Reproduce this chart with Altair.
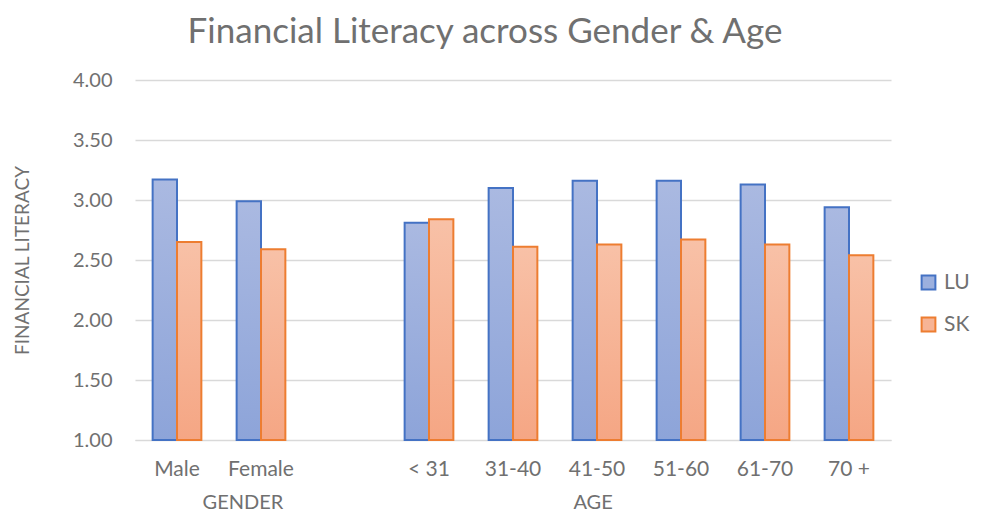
import altair as alt
import pandas as pd

# ---- data ----
categories = ["Male", "Female", " ", "< 31", "31-40", "41-50", "51-60", "61-70", "70 +"]
data_categories = ["Male", "Female", "< 31", "31-40", "41-50", "51-60", "61-70", "70 +"]
lu_values = [3.17, 2.99, 2.81, 3.10, 3.16, 3.16, 3.13, 2.94]
sk_values = [2.65, 2.59, 2.84, 2.61, 2.63, 2.67, 2.63, 2.54]
series = ["LU", "SK"]
y_ticks = [1.0, 1.5, 2.0, 2.5, 3.0, 3.5, 4.0]
group_labels = ["GENDER", "AGE"]
group_anchor = ["Female", "41-50"]

rows = []
for c, lu, sk in zip(data_categories, lu_values, sk_values):
    rows.append({"category": c, "series": "LU", "value": lu})
    rows.append({"category": c, "series": "SK", "value": sk})
df = pd.DataFrame(rows)

W, H = 756, 360
FONT = "Lato"
GRAY = "#707070"
GRID = "#d9d9d9"

x_enc = alt.X(
    "category:N",
    sort=categories,
    scale=alt.Scale(domain=categories, paddingInner=0.42, paddingOuter=0.21),
    axis=alt.Axis(
        title=None, labelAngle=0, labelFontSize=21, labelColor=GRAY, labelFont=FONT,
        labelPadding=18, ticks=False, domainColor=GRID, domainWidth=1, grid=False,
    ),
)
y_enc = alt.Y(
    "value:Q",
    scale=alt.Scale(domain=[1, 4], zero=False, nice=False),
    axis=alt.Axis(
        values=y_ticks, format=".2f", title="FINANCIAL LITERACY", titleFont=FONT,
        titleFontSize=19, titleFontWeight="normal", titleColor=GRAY, titlePadding=40,
        labelFont=FONT, labelFontSize=20, labelColor=GRAY, labelPadding=23,
        ticks=False, tickSize=0, domain=False, grid=True, gridColor=GRID, gridWidth=1.3,
    ),
)
xoff = alt.XOffset("series:N", scale=alt.Scale(domain=series))


def gradient(top, bottom):
    return alt.Gradient(
        gradient="linear",
        stops=[alt.GradientStop(color=top, offset=0), alt.GradientStop(color=bottom, offset=1)],
        x1=0, x2=0, y1=0, y2=1,
    )


def bar_layer(s, top, bottom, stroke):
    return (
        alt.Chart(df)
        .transform_filter(alt.datum.series == s)
        .mark_bar(fill=gradient(top, bottom), stroke=stroke, strokeWidth=2)
        .encode(x=x_enc, xOffset=xoff, y=y_enc, y2=alt.Y2(datum=1))
    )


lu_layer = bar_layer("LU", "#aab9e1", "#8da4d9", "#4472C4")
sk_layer = bar_layer("SK", "#f8c1a7", "#f5a684", "#ED7D31")

legend = alt.Legend(
    title=None, orient="none", legendX=W + 27, legendY=192, symbolType="square",
    symbolSize=190, symbolStrokeWidth=2, symbolOpacity=1, labelFontSize=21,
    labelColor=GRAY, labelFont=FONT, rowPadding=19, labelOffset=5,
)
legend_layer = (
    alt.Chart(df)
    .mark_point(opacity=0, filled=True)
    .encode(
        x=x_enc,
        y=y_enc,
        fill=alt.Fill("series:N", scale=alt.Scale(domain=series, range=["#9cb0de", "#f7b495"]), legend=legend),
        stroke=alt.Stroke("series:N", scale=alt.Scale(domain=series, range=["#4472C4", "#ED7D31"]), legend=legend),
    )
)

gdf = pd.DataFrame({"label": group_labels, "anchor": group_anchor})


def group_layer(lbl, band_pos):
    return (
        alt.Chart(gdf)
        .transform_filter(alt.datum.label == lbl)
        .mark_text(font=FONT, fontSize=20, color=GRAY, baseline="middle", align="center")
        .encode(x=alt.X("anchor:N", bandPosition=band_pos), y=alt.value(H + 63), text="label:N")
    )


chart = (
    alt.layer(lu_layer, sk_layer, legend_layer, group_layer("GENDER", 0.13), group_layer("AGE", 0.42))
    .properties(
        width=W,
        height=H,
        autosize="none",
        padding={"left": 127, "top": 72, "right": 80, "bottom": 74},
        title=alt.TitleParams(
            "Financial Literacy across Gender & Age", fontSize=35, font=FONT, color=GRAY,
            fontWeight="normal", anchor="middle", offset=20, dx=-28,
        ),
    )
    .configure_view(stroke=None)
)

chart.save("out.html", embed_options={"renderer": "svg", "actions": False})
